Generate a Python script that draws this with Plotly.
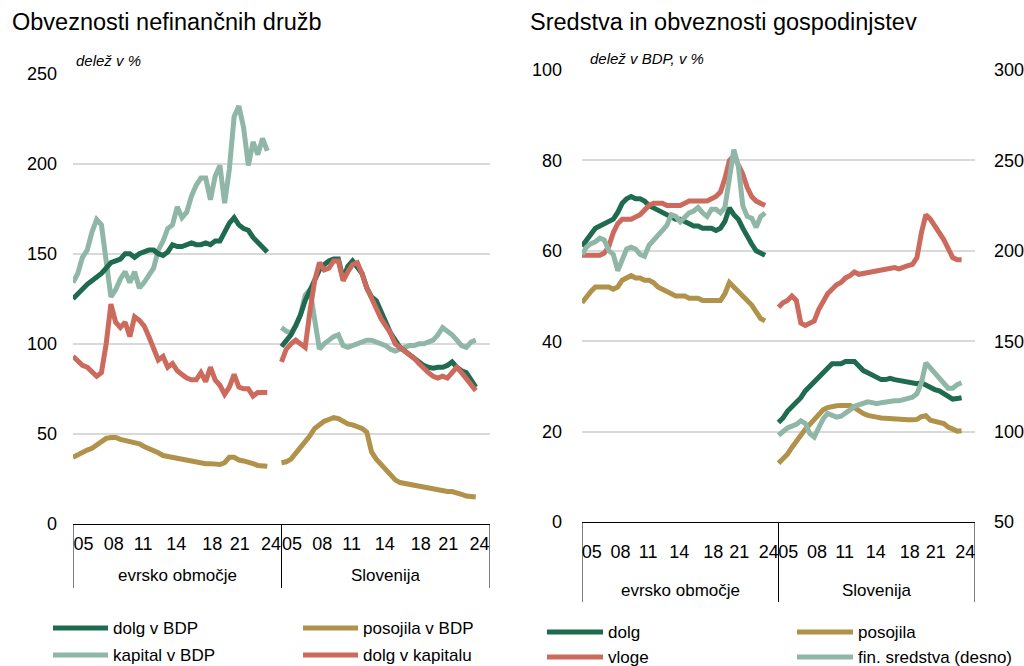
import plotly.graph_objects as go

W, H = 1024, 666
FONT = "Liberation Sans"

DARK = "#1e6b4f"
LIGHT = "#8fb6a7"
GOLD = "#b0924b"
RED = "#cc6a5d"

# half-year observations, 2004H1 .. 2024H2
periods = [2004 + 0.5 * i for i in range(42)]
GROUP = 22  # width of one country block on the x axis (years)

# --- non-financial corporations (% of GDP / % of equity) ---
ea_dolg_bdp = [125, 128, 131, 133, 135, 137, 139, 142, 145, 146, 147, 150, 150, 148,
               150, 151, 152, 152, 150, 149, 151, 155, 154, 154, 155, 156, 155, 155,
               156, 155, 157, 157, 162, 167, 170, 166, 164, 163, 159, 156, 153, 151]
si_dolg_bdp = [98.5, 102, 105, 110, 116, 124, 130, 136, 141, 144, 146, 147, 147, 136,
               143, 146, 143, 139, 131, 126, 124, 118, 112, 106, 102, 98, 96, 94,
               92, 90, 88, 87, 86.5, 87, 87, 88, 90, 87, 85, 84, 80, 76]

ea_kapital_bdp = [134, 139, 148, 152, 162, 169, 166, 148, 126, 130, 136, 140, 134, 140,
                  131, 134, 138, 142, 152, 157, 164, 166, 176, 170, 173, 182, 188, 192,
                  192, 180, 193, 199, 178, 197, 226, 232, 220, 199, 212, 205, 214, 207]
si_kapital_bdp = [109, 107, 106, 110, 116, 127, 130, 115, 97, 100, 102, 104, 105, 99,
                  98, 99, 100, 101, 102, 102, 101, 100, 99, 97, 96, 97, 98, 99,
                  99, 100, 100, 101, 102, 105, 109, 107, 105, 102, 99, 98, 101, 102]

ea_posojila_bdp = [37, 38.5, 40, 41, 42, 44, 46, 47.5, 48, 48, 47, 46.5, 46, 45,
                   44.5, 43, 42, 41, 39.5, 38, 37.5, 37, 36.5, 36, 35, 35, 34.5, 34,
                   33.5, 33.5, 33, 33, 34, 37, 37, 35.5, 35, 34.5, 33.5, 32.5, 32, 32]
si_posojila_bdp = [34, 34.5, 36, 39, 42, 46, 49, 53, 55, 57, 58, 59, 58.5, 57,
                   55.5, 55, 54, 53, 51, 40, 36, 33, 30, 27, 24.5, 23, 22.5, 22,
                   21, 20.5, 20, 19.5, 19, 18.5, 18, 18, 18, 17.5, 16.5, 15.5, 15, 15]

ea_dolg_kapital = [93, 90, 88, 87, 84, 82, 84, 100, 122, 112, 109, 112, 104, 115,
                   113, 110, 104, 97, 91, 93, 87, 89, 85, 83, 81, 80, 80, 84,
                   79, 87, 80, 77, 72, 76, 83, 76, 75, 75, 71, 73, 73, 73]
si_dolg_kapital = [90, 97, 100, 102, 100, 98, 118, 135, 145, 141, 142, 146, 146, 135,
                   140, 144, 145, 139, 131, 125, 120, 114, 110, 106, 100, 98, 96, 94,
                   92, 89, 86, 84, 82, 81, 82, 81, 84, 87, 84, 81, 77, 74]

# --- households (% of GDP; financial assets on the right-hand axis) ---
ea_dolg = [61, 62.5, 63.5, 65, 65.5, 66, 66.5, 67, 68.5, 70.5, 71.5, 72, 71.5, 71.5,
           71, 70, 69.5, 69, 68.5, 68, 67.5, 67, 67, 66.5, 66, 65.5, 65.5, 65,
           65, 65, 64.5, 65, 66.5, 69.5, 68, 67, 65, 63, 61.5, 60, 59.5, 59]
si_dolg = [22, 23, 24.5, 25.5, 26.5, 27.5, 29, 30, 31, 32, 33, 34, 35, 35,
           35, 35.5, 35.5, 35.5, 34.5, 33.5, 33, 32.5, 32, 31.5, 31.5, 31.8, 31.5, 31.3,
           31, 30.8, 30.8, 30.6, 30.8, 30.2, 29.8, 29.3, 29, 28.5, 27.8, 27.2, 27.3, 27.5]

ea_vloge = [59, 59, 59, 59, 59, 59.5, 61, 64, 66, 67, 67, 67, 67.5, 68,
            69, 70, 70.5, 70.5, 70.5, 70, 70, 70, 70, 70.5, 71, 71, 71, 71,
            71, 71.5, 72, 73, 76, 80, 81, 79, 77, 74, 72, 71, 70.5, 70]
si_vloge = [47.5, 48.5, 49, 50, 49, 44, 43.5, 44, 44.5, 47, 49, 50.5, 51.5, 52.5,
            53, 54, 54.5, 55.3, 54.8, 55, 55.3, 55.5, 55.5, 55.8, 56, 56.2, 56.3, 56,
            56.5, 56.7, 57, 58.5, 64, 68, 67, 65.5, 64.5, 62.5, 60.5, 58.5, 58, 58]

ea_posojila = [48.5, 50, 51, 52, 52, 52, 52, 51.5, 52, 53.5, 54, 54.5, 54, 54,
               53.5, 53.5, 53, 52, 51.5, 51, 50.5, 50, 50, 50, 49.5, 49.5, 49.5, 49,
               49, 49, 49, 49, 50.5, 53, 52, 51, 50, 49, 48, 46.5, 45, 44.5]
si_posojila = [13, 14, 15, 16.5, 18, 19.2, 20.5, 21.5, 22.5, 23.5, 24.8, 25.3, 25.6, 25.7,
               25.8, 25.9, 25.8, 25.3, 24.6, 24, 23.6, 23.3, 23.2, 23, 22.9, 22.8, 22.7, 22.6,
               22.6, 22.6, 22.6, 22.7, 23.3, 23.5, 22.5, 22.2, 22, 21.8, 21, 20.4, 20.1, 20.2]

ea_fin_sredstva = [198, 202, 204, 205, 207, 206, 200, 198, 189, 195, 201, 202, 201, 198,
                   197, 203, 206, 209, 212, 214, 220, 219, 216, 219, 221, 222, 224, 221,
                   219, 223, 223, 221, 224, 240, 256, 247, 225, 219, 218, 213, 219, 221]
si_fin_sredstva = [98, 100, 102, 103, 104, 106, 104.5, 99, 97, 102, 107, 110, 109, 108,
                   108.5, 110, 112, 114, 115, 116, 116.5, 116, 115.5, 116, 116.5, 116.5, 117, 117,
                   117.5, 118, 119, 121, 127, 138, 135, 132, 129, 126, 124, 124, 126, 127]

tick_offsets = [1.1, 4.3, 7.4, 10.9, 14.7, 17.6, 20.9]
tick_text = ["05", "08", "11", "14", "18", "21", "24"]
groups = ["evrsko območje", "Slovenija"]


def both_blocks(ea, si):
    """Euro-area block followed by the Slovenian block, separated by a gap."""
    x = list(periods) + [None] + [p + GROUP for p in periods]
    y = list(ea) + [None] + list(si)
    return x, y


def px_x(p):
    return p / W


def px_y(p):
    return 1 - p / H


fig = go.Figure()

# drawing order (last on top) and key slot (column, row)
left_series = [
    ("kapital v BDP", ea_kapital_bdp, si_kapital_bdp, LIGHT, (0, 1)),
    ("posojila v BDP", ea_posojila_bdp, si_posojila_bdp, GOLD, (1, 0)),
    ("dolg v BDP", ea_dolg_bdp, si_dolg_bdp, DARK, (0, 0)),
    ("dolg v kapitalu", ea_dolg_kapital, si_dolg_kapital, RED, (1, 1)),
]
right_series = [
    ("posojila", ea_posojila, si_posojila, GOLD, (1, 0), "y3"),
    ("dolg", ea_dolg, si_dolg, DARK, (0, 0), "y3"),
    ("vloge", ea_vloge, si_vloge, RED, (0, 1), "y3"),
    ("fin. sredstva (desno)", ea_fin_sredstva, si_fin_sredstva, LIGHT, (1, 1), "y4"),
]

for name, ea, si, col, _ in left_series:
    x, y = both_blocks(ea, si)
    fig.add_trace(go.Scatter(x=x, y=y, name=name, mode="lines", xaxis="x", yaxis="y",
                             line=dict(color=col, width=5), connectgaps=False,
                             showlegend=False))

for name, ea, si, col, _, ax in right_series:
    x, y = both_blocks(ea, si)
    fig.add_trace(go.Scatter(x=x, y=y, name=name, mode="lines", xaxis="x2", yaxis=ax,
                             line=dict(color=col, width=5), connectgaps=False,
                             showlegend=False))

tickvals = [2004 + o for o in tick_offsets] + [2004 + GROUP + o for o in tick_offsets]
ticktext = tick_text + tick_text

tick_font = dict(family=FONT, size=18, color="black")
grid = dict(showgrid=True, gridcolor="#d9d9d9", gridwidth=1.5, zeroline=False)

xcommon = dict(range=[2004, 2004 + 2 * GROUP], tickmode="array", tickvals=tickvals,
               ticktext=ticktext, tickangle=0, showgrid=False, zeroline=False, showline=True,
               linecolor="black", linewidth=1, ticks="", tickfont=tick_font,
               automargin=False)

fig.update_layout(
    width=W, height=H,
    margin=dict(l=0, r=0, t=0, b=0),
    paper_bgcolor="white", plot_bgcolor="white",
    font=dict(family=FONT, size=17, color="black"),
    showlegend=False,
    xaxis=dict(domain=[px_x(73), px_x(490)], anchor="y", ticklabelstandoff=3, **xcommon),
    yaxis=dict(domain=[px_y(524), px_y(73.5)], range=[0, 250], tickvals=[0, 50, 100, 150, 200, 250],
               tickfont=tick_font, ticklabelstandoff=15, automargin=False, **grid),
    xaxis2=dict(domain=[px_x(582), px_x(975)], anchor="y3", ticklabelstandoff=13, **xcommon),
    yaxis3=dict(domain=[px_y(522), px_y(70)], range=[0, 100], tickvals=[0, 20, 40, 60, 80, 100],
                tickfont=tick_font, ticklabelstandoff=19, automargin=False, anchor="x2", **grid),
    yaxis4=dict(overlaying="y3", side="right", range=[50, 300], tickvals=[50, 100, 150, 200, 250, 300],
                tickfont=tick_font, ticklabelstandoff=18, automargin=False, showgrid=False,
                zeroline=False, anchor="x2"),
)

annotations = [
    dict(text="Obveznosti nefinančnih družb", x=px_x(10), y=px_y(22), xref="paper", yref="paper",
         xanchor="left", yanchor="middle", showarrow=False, font=dict(family=FONT, size=23.5)),
    dict(text="Sredstva in obveznosti gospodinjstev", x=px_x(528), y=px_y(22), xref="paper",
         yref="paper", xanchor="left", yanchor="middle", showarrow=False,
         font=dict(family=FONT, size=23.5)),
    dict(text="<i>delež v %</i>", x=px_x(74), y=px_y(61), xref="paper", yref="paper",
         xanchor="left", yanchor="middle", showarrow=False, font=dict(family=FONT, size=15)),
    dict(text="<i>delež v BDP, v %</i>", x=px_x(588), y=px_y(58), xref="paper", yref="paper",
         xanchor="left", yanchor="middle", showarrow=False, font=dict(family=FONT, size=15)),
]
shapes = []

# category axis: group labels and the vertical separators below the plot
for xr, y_top, y_bot, y_lab in (("x", 524, 588, 575), ("x2", 522, 602, 590)):
    for k, g in enumerate(groups):
        annotations.append(dict(text=g, x=2004 + GROUP * k + GROUP / 2, y=px_y(y_lab), xref=xr,
                                yref="paper", xanchor="center", yanchor="middle",
                                showarrow=False, font=dict(family=FONT, size=17)))
    for k in range(3):
        xv = 2004 + GROUP * k
        shapes.append(dict(type="line", xref=xr, yref="paper", x0=xv, x1=xv,
                           y0=px_y(y_top), y1=px_y(y_bot), line=dict(color="black", width=1)))

# two-column keys under each panel
key_layouts = [
    (left_series, (53, 303), (628, 655), 55),
    ([s[:5] for s in right_series], (547, 797), (632, 657), 56),
]
for series, col_x, row_y, seg in key_layouts:
    for name, _, _, col, (c, r) in series:
        x0 = col_x[c]
        y0 = row_y[r]
        shapes.append(dict(type="line", xref="paper", yref="paper",
                           x0=px_x(x0), x1=px_x(x0 + seg), y0=px_y(y0), y1=px_y(y0),
                           line=dict(color=col, width=5)))
        annotations.append(dict(text=name, x=px_x(x0 + seg + 3), y=px_y(y0), xref="paper",
                                yref="paper", xanchor="left", yanchor="middle",
                                showarrow=False, font=dict(family=FONT, size=17)))

fig.update_layout(annotations=annotations, shapes=shapes)

fig.write_html("out.html")
